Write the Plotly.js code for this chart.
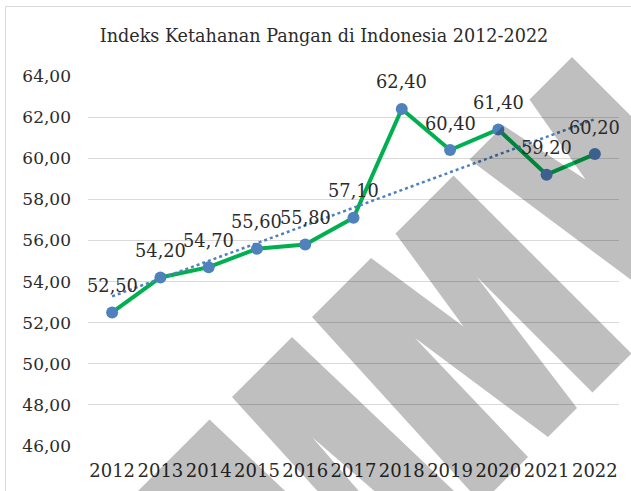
<!DOCTYPE html>
<html>
<head>
<meta charset="utf-8">
<script src="https://cdn.plot.ly/plotly-3.0.1.min.js"></script>
<style>
  html, body { margin: 0; padding: 0; background: #ffffff; }
  #chart { width: 631px; height: 491px; }
</style>
</head>
<body>
<div id="chart"></div>
<script>
// ---- data ----
const years = ['2012','2013','2014','2015','2016','2017','2018','2019','2020','2021','2022'];
const values = [52.50, 54.20, 54.70, 55.60, 55.80, 57.10, 62.40, 60.40, 61.40, 59.20, 60.20];
const chartTitle = 'Indeks Ketahanan Pangan di Indonesia 2012-2022';

// ---- linear trendline (least squares over the series) ----
const n = values.length;
const idx = values.map((_, i) => i);
const mx = idx.reduce((a, b) => a + b, 0) / n;
const my = values.reduce((a, b) => a + b, 0) / n;
let sxy = 0, sxx = 0;
idx.forEach((x, i) => { sxy += (x - mx) * (values[i] - my); sxx += (x - mx) * (x - mx); });
const slope = sxy / sxx;
const intercept = my - slope * mx;
const trendY = idx.map(x => intercept + slope * x);

const fmt = v => v.toFixed(2).replace('.', ',');

// ---- geometry helpers (layout only) ----
const W = 631, H = 491;
const M = { l: 88, r: 12, t: 76, b: 45 };
const PW = W - M.l - M.r, PH = H - M.t - M.b;
function pp(x, y) { return [((x - M.l) / PW).toFixed(5), ((H - M.b - y) / PH).toFixed(5)]; }
function uc(u, c) { return pp((u - c) / 2, (u + c) / 2); }
function poly(pts) {
  return pts.map((p, i) => { const q = uc(p[0], p[1]); return (i ? 'L' : 'M') + q[0] + ',' + q[1]; }).join('') + 'Z';
}
// watermark band with cut-out gaps (evenodd)
const band = poly([[629,-515],[629,760],[985,760],[985,-515]]);
const holes = [
  [[629,-430],[629,-378],[765,-406]],
  [[629,-310],[629,-278],[985,-278],[985,-362]],
  [[629,-162],[629,-113],[790,-137]],
  [[629,5],[629,45],[985,36],[985,22]],
  [[629,165],[629,210],[985,200],[985,182]],
  [[753,-200],[985,-169],[985,-200]],
  [[753,-77],[985,-71],[985,-111]],
  [[750,125],[985,142],[985,108]]
].map(poly).join('');

const fontFam = '"DejaVu Serif", "Liberation Serif", serif';
const txtColor = '#2b2b2b';

const traces = [
  {
    x: years, y: values, type: 'scatter', mode: 'lines+markers',
    line: { color: '#00b050', width: 4 },
    marker: { color: '#4f81bd', size: 12 },
    hoverinfo: 'skip', showlegend: false
  },
  {
    x: years, y: trendY, type: 'scatter', mode: 'lines',
    line: { color: '#4f81bd', width: 2.5, dash: 'dot' },
    hoverinfo: 'skip', showlegend: false
  }
];

const annotations = years.map((yr, i) => ({
  x: i, y: values[i], xref: 'x', yref: 'y',
  text: fmt(values[i]), showarrow: false,
  yanchor: 'middle', xanchor: 'center', yshift: 27,
  font: { family: fontFam, size: 17.8, color: txtColor }
}));

const layout = {
  width: W, height: H,
  margin: M,
  paper_bgcolor: '#ffffff', plot_bgcolor: '#ffffff',
  separators: ',.',
  showlegend: false,
  title: {
    text: chartTitle,
    font: { family: fontFam, size: 17.6, color: txtColor },
    x: (324 - M.l) / PW, xref: 'paper', xanchor: 'center',
    y: 1 - 36 / H, yref: 'container', yanchor: 'middle'
  },
  xaxis: {
    type: 'category', range: [-0.5, 10.5],
    showgrid: false, zeroline: false, showline: false, ticks: '',
    tickfont: { family: fontFam, size: 18, color: txtColor },
    ticklabelstandoff: 12, fixedrange: true
  },
  yaxis: {
    range: [46, 64], dtick: 2, tick0: 46, tickformat: '.2f',
    showgrid: true, gridcolor: '#d9d9d9', gridwidth: 1,
    zeroline: false, showline: false, ticks: '',
    tickfont: { family: fontFam, size: 17, color: txtColor },
    ticklabelstandoff: 16, fixedrange: true
  },
  annotations: annotations,
  shapes: [
    { type: 'path', xref: 'paper', yref: 'paper', path: band + holes, fillrule: 'evenodd',
      fillcolor: 'rgba(0,0,0,0.25)', line: { width: 0 }, layer: 'above' },
    { type: 'line', xref: 'paper', yref: 'paper',
      x0: pp(5.5, 6.5)[0], y0: pp(5.5, 6.5)[1], x1: pp(640, 6.5)[0], y1: pp(640, 6.5)[1],
      line: { color: '#d9d9d9', width: 1 } },
    { type: 'line', xref: 'paper', yref: 'paper',
      x0: pp(5.5, 6.5)[0], y0: pp(5.5, 6.5)[1], x1: pp(5.5, 500)[0], y1: pp(5.5, 500)[1],
      line: { color: '#d9d9d9', width: 1 } }
  ]
};

Plotly.newPlot('chart', traces, layout, { staticPlot: true, displayModeBar: false });
</script>
</body>
</html>
